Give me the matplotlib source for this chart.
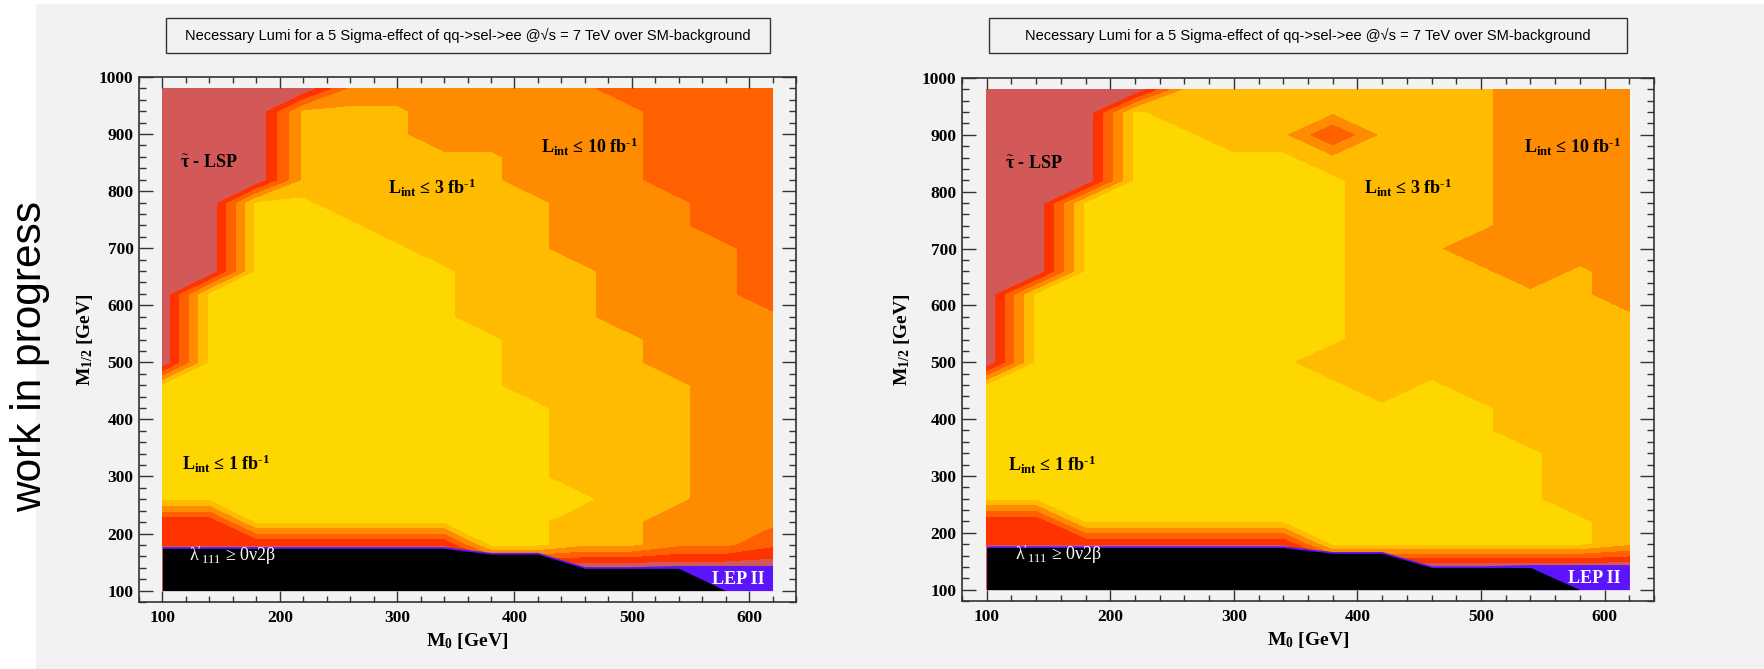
import matplotlib
matplotlib.use("Agg")
import matplotlib.pyplot as plt
from matplotlib.patches import Rectangle
from matplotlib.ticker import MultipleLocator
import numpy as np

plt.rcParams["font.family"] = "Liberation Serif"
plt.rcParams["mathtext.fontset"] = "custom"
plt.rcParams["mathtext.rm"] = "Liberation Serif"
plt.rcParams["mathtext.it"] = "Liberation Serif:italic"
plt.rcParams["mathtext.bf"] = "Liberation Serif:bold"

BG = "#f2f2f2"

# scan grid in GeV
m0 = [100, 140, 180, 220, 260, 300, 340, 380, 420, 460, 500, 540, 580, 620]
m12 = [980, 940, 900, 860, 820, 780, 740, 700, 660, 620, 580, 540,
       500, 460, 420, 380, 340, 300, 260, 220, 180, 140, 100]

# luminosity band at each scan point (rows follow m12)
# 0: <= 1 fb-1, 1: <= 3 fb-1, 2: <= 10 fb-1, 3: > 10 fb-1, 4/5: towards stau-LSP
band_left = [
    [5, 5, 5, 5, 2, 2, 2, 2, 2, 2, 3, 3, 3, 3],
    [5, 5, 5, 1, 1, 1, 2, 2, 2, 2, 2, 3, 3, 3],
    [5, 5, 5, 1, 1, 1, 2, 2, 2, 2, 2, 3, 3, 3],
    [5, 5, 5, 1, 1, 1, 1, 1, 2, 2, 2, 3, 3, 3],
    [5, 5, 5, 1, 1, 1, 1, 1, 2, 2, 2, 3, 3, 3],
    [5, 5, 0, 0, 1, 1, 1, 1, 1, 2, 2, 2, 3, 3],
    [5, 5, 0, 0, 0, 1, 1, 1, 1, 2, 2, 2, 3, 3],
    [5, 5, 0, 0, 0, 0, 1, 1, 1, 2, 2, 2, 2, 3],
    [5, 5, 0, 0, 0, 0, 0, 1, 1, 1, 2, 2, 2, 3],
    [5, 0, 0, 0, 0, 0, 0, 1, 1, 1, 2, 2, 2, 3],
    [5, 0, 0, 0, 0, 0, 0, 1, 1, 1, 2, 2, 2, 2],
    [5, 0, 0, 0, 0, 0, 0, 0, 1, 1, 1, 2, 2, 2],
    [5, 0, 0, 0, 0, 0, 0, 0, 1, 1, 1, 2, 2, 2],
    [0, 0, 0, 0, 0, 0, 0, 0, 1, 1, 1, 1, 2, 2],
    [0, 0, 0, 0, 0, 0, 0, 0, 0, 1, 1, 1, 2, 2],
    [0, 0, 0, 0, 0, 0, 0, 0, 0, 1, 1, 1, 2, 2],
    [0, 0, 0, 0, 0, 0, 0, 0, 0, 1, 1, 1, 2, 2],
    [0, 0, 0, 0, 0, 0, 0, 0, 0, 1, 1, 1, 2, 2],
    [0, 0, 0, 0, 0, 0, 0, 0, 0, 0, 1, 1, 2, 2],
    [4, 4, 0, 0, 0, 0, 0, 0, 0, 1, 1, 2, 2, 2],
    [4.2, 4.2, 4.2, 4.2, 4.2, 4.2, 4.2, 0, 0, 1, 1, 2, 2, 3],
    [5, 5, 5, 5, 5, 5, 5, 5, 5, 5, 5, 5, 5, 5],
    [5, 5, 5, 5, 5, 5, 5, 5, 5, 5, 5, 5, 5, 5],
]

band_right = [
    [5, 5, 5, 5, 1, 1, 1, 1, 1, 1, 1, 2, 2, 2],
    [5, 5, 5, 0, 1, 1, 1, 1, 1, 1, 1, 2, 2, 2],
    [5, 5, 5, 0, 0, 1, 1, 3.2, 1, 1, 1, 2, 2, 2],
    [5, 5, 5, 0, 0, 0, 0, 1, 1, 1, 1, 2, 2, 2],
    [5, 5, 5, 0, 0, 0, 0, 0, 1, 1, 1, 2, 2, 2],
    [5, 5, 0, 0, 0, 0, 0, 0, 1, 1, 1, 2, 2, 2],
    [5, 5, 0, 0, 0, 0, 0, 0, 1, 1, 1, 2, 2, 2],
    [5, 5, 0, 0, 0, 0, 0, 0, 1, 1, 2, 2, 2, 2],
    [5, 5, 0, 0, 0, 0, 0, 0, 1, 1, 1, 2, 1, 2],
    [5, 0, 0, 0, 0, 0, 0, 0, 1, 1, 1, 1, 1, 2],
    [5, 0, 0, 0, 0, 0, 0, 0, 1, 1, 1, 1, 1, 1],
    [5, 0, 0, 0, 0, 0, 0, 0, 1, 1, 1, 1, 1, 1],
    [5, 0, 0, 0, 0, 0, 0, 1, 1, 1, 1, 1, 1, 1],
    [0, 0, 0, 0, 0, 0, 0, 0, 1, 0, 1, 1, 1, 1],
    [0, 0, 0, 0, 0, 0, 0, 0, 0, 0, 0, 1, 1, 1],
    [0, 0, 0, 0, 0, 0, 0, 0, 0, 0, 0, 1, 1, 1],
    [0, 0, 0, 0, 0, 0, 0, 0, 0, 0, 0, 0, 1, 1],
    [0, 0, 0, 0, 0, 0, 0, 0, 0, 0, 0, 0, 1, 1],
    [0, 0, 0, 0, 0, 0, 0, 0, 0, 0, 0, 0, 1, 1],
    [4, 4, 0, 0, 0, 0, 0, 0, 0, 0, 0, 0, 0, 1],
    [4.2, 4.2, 4.2, 4.2, 4.2, 4.2, 4.2, 0, 0, 0, 0, 0, 0, 1],
    [5, 5, 5, 5, 5, 5, 5, 5, 5, 5, 5, 5, 5, 5],
    [5, 5, 5, 5, 5, 5, 5, 5, 5, 5, 5, 5, 5, 5],
]

# excluded regions, upper edge in M1/2 along m0
lambda_limit = [174, 174, 174, 174, 174, 174, 174, 164, 164, 139, 139, 139, 100, 100]
lep_limit = [177, 177, 177, 177, 177, 177, 177, 167, 167, 142, 142, 144, 144, 144]

band_levels = [-1, 0.25, 1.25, 2.25, 3.25, 4.25, 6]
band_colors = ["#ffd700", "#ffbb00", "#ff8c00", "#ff6100", "#ff3300", "#d35858"]

title = "Necessary Lumi for a 5 Sigma-effect of qq->sel->ee @√s = 7 TeV over SM-background"

# label anchors (m0, m12) per panel
stau_pos = [(115, 840), (115, 840)]
l1_pos = [(117, 311), (117, 309)]
l3_pos = [(292, 795), (405, 795)]
l10_pos = [(423, 867), (535, 867)]
lambda_pos = [(123, 152), (123, 152)]
lep_pos = [(568, 111), (570, 111)]


def draw_panel(ax, band, i):
    ax.set_facecolor(BG)
    ax.contourf(m0, m12, np.array(band, dtype=float), levels=band_levels,
                colors=band_colors)
    ax.fill_between(m0, 100, lep_limit, color="#5c14ff", lw=0)
    ax.fill_between(m0, 100, lambda_limit, color="black", lw=0)
    ax.set_xlim(80, 640)
    ax.set_ylim(80, 1000)

    ax.xaxis.set_major_locator(MultipleLocator(100))
    ax.xaxis.set_minor_locator(MultipleLocator(20))
    ax.yaxis.set_major_locator(MultipleLocator(100))
    ax.yaxis.set_minor_locator(MultipleLocator(20))
    ax.tick_params(which="both", direction="in", top=True, right=True,
                   color="#333333", width=1)
    ax.tick_params(axis="y", which="major", length=10, pad=4, labelsize=12.5)
    ax.tick_params(axis="y", which="minor", length=5)
    ax.tick_params(axis="x", which="major", length=8, pad=6, labelsize=12.5)
    ax.tick_params(axis="x", which="minor", length=4)
    for lab in ax.get_xticklabels() + ax.get_yticklabels():
        lab.set_fontweight("bold")
    for s in ax.spines.values():
        s.set_color("#333333")
        s.set_linewidth(1.2)

    ax.set_xlabel(r"M$_\mathbf{0}$ [GeV]", fontsize=14, fontweight="bold")
    ax.set_ylabel(r"M$_\mathbf{1/2}$ [GeV]", fontsize=14, fontweight="bold")
    ax.xaxis.set_label_coords(0.5, -0.055)

    kw = dict(fontsize=13, fontweight="bold", va="baseline", ha="left")
    ax.text(*stau_pos[i], r"$\tilde{\mathbf{\tau}}$ - LSP", **kw)
    ax.text(*l1_pos[i], r"L$_\mathbf{int}$ ≤ 1 fb$^\mathbf{‐1}$", **kw)
    ax.text(*l3_pos[i], r"L$_\mathbf{int}$ ≤ 3 fb$^\mathbf{‐1}$", **kw)
    ax.text(*l10_pos[i], r"L$_\mathbf{int}$ ≤ 10 fb$^\mathbf{‐1}$", **kw)
    ax.text(*lambda_pos[i], r"$\mathrm{\lambda}'_{111}$ ≥ 0ν2β", color="white",
            fontsize=13, va="baseline", ha="left")
    ax.text(*lep_pos[i], "LEP II", color="white", fontsize=13,
            fontweight="bold", va="baseline", ha="left")


fig = plt.figure(figsize=(17.64, 6.69), dpi=100, facecolor="white")
fig.patches.append(Rectangle((36 / 1764, 0), 1 - 36 / 1764, 665 / 669,
                             transform=fig.transFigure, color=BG, zorder=-10))

ax1 = fig.add_axes([139 / 1764, 1 - 602 / 669, 657 / 1764, 525 / 669])
ax2 = fig.add_axes([962 / 1764, 1 - 601 / 669, 692 / 1764, 523 / 669])
draw_panel(ax1, band_left, 0)
draw_panel(ax2, band_right, 1)
ax1.yaxis.set_label_coords(-0.067, 0.5)
ax2.yaxis.set_label_coords(-0.072, 0.5)

# title boxes
for x0, x1 in [(166, 770), (989, 1627)]:
    fig.patches.append(Rectangle((x0 / 1764, 1 - 53 / 669), (x1 - x0) / 1764, 35 / 669,
                                 transform=fig.transFigure, facecolor=BG,
                                 edgecolor="#333333", lw=1))
    fig.text((x0 + x1) / 2 / 1764, 1 - 35.5 / 669, title, ha="center", va="center",
             fontsize=10.5, family="Liberation Sans")

fig.text(30 / 1764, 1 - 356 / 669, "work in progress", rotation=90, ha="center",
         va="center", fontsize=30.5, family="Liberation Sans")

fig.savefig("out.png", dpi=100, facecolor=fig.get_facecolor())
